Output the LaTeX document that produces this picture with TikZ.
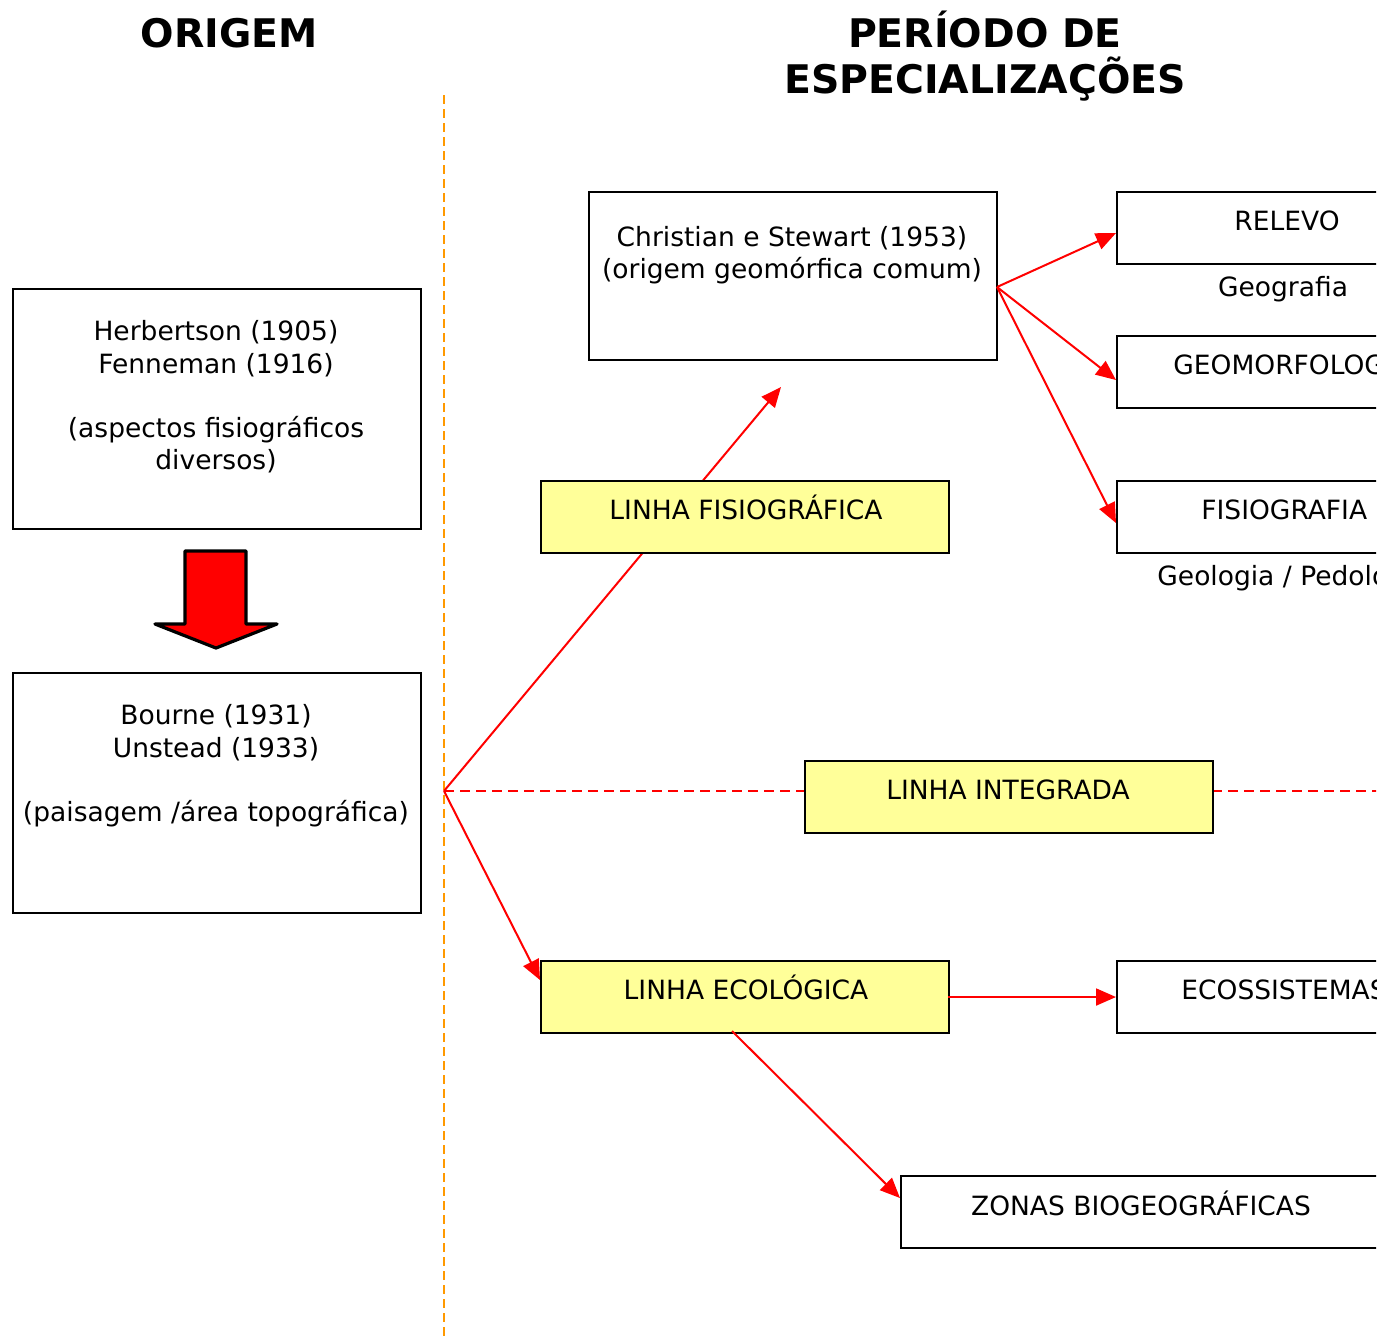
\documentclass[tikz,border=0pt]{standalone}
\usepackage{fontspec}
\setmainfont{DejaVu Sans}
\usetikzlibrary{arrows.meta}
\definecolor{lightyellow}{HTML}{FFFF99}
\definecolor{dashorange}{HTML}{FF9900}
\begin{document}
\begin{tikzpicture}[x=0.5pt,y=-0.5pt,
  box/.style={draw=black, line width=1pt, fill=white, rectangle, inner sep=0pt, anchor=north west, minimum width=204pt, minimum height=36pt},
  bigbox/.style={box, minimum height=120pt},
  linebox/.style={box, fill=lightyellow},
  txt/.style={inner sep=0pt, font=\fontsize{13.25pt}{16.2pt}\selectfont, align=center},
  ttl/.style={inner sep=0pt, font=\fontsize{19.7pt}{23pt}\selectfont\bfseries, align=center},
  redarr/.style={draw=red, line width=1pt, -{Triangle[length=10pt,width=8.5pt]}},
  reddash/.style={draw=red, line width=1pt, dash pattern=on 5pt off 3pt},
  bigarrow/.style={draw=black, fill=red, line width=1.6pt, line join=round}
]
\useasboundingbox (0,0) rectangle (1391,1341);

% titles
\node[ttl] (t1) at (229,33) {ORIGEM};
\node[ttl] (t2) at (985,56) {PERÍODO DE\\ESPECIALIZAÇÕES};

% divider
\draw[dashorange, line width=1pt, dash pattern=on 4.5pt off 2.5pt] (444,95) -- (444,1336);

% origin point
\coordinate (O) at (444,791);
\coordinate (fisiotip) at (781,387);

\begin{scope}
\clip (0,0) rectangle (1376,1341);
% lines behind boxes
\draw[redarr] (O) -- (fisiotip);
\draw[reddash] (O) -- (1400,791);

% left column
\node[bigbox] (herb) at (12,288) {};
\node[txt] (herbt) at (216,397) {Herbertson (1905)\\Fenneman (1916)\\[16pt](aspectos fisiográficos\\diversos)};
\node[bigbox] (bour) at (12,672) {};
\node[txt] (bourt) at (216,766) {Bourne (1931)\\Unstead (1933)\\[16pt](paisagem /área topográfica)};

\draw[bigarrow] (185,551) -- (246,551) -- (246,624) -- (277,624) -- (216,648) -- (155,624) -- (185,624) -- cycle;

% Christian
\node[box, minimum height=84pt] (chr) at (588,191) {};
\node[txt] (chrt) at (792,255) {Christian e Stewart (1953)\\(origem geomórfica comum)};

% line boxes
\node[linebox] (fisio) at (540,480) {};
\node[txt, anchor=base] (fisiot) at (746,519) {LINHA FISIOGRÁFICA};
\node[linebox] (integ) at (804,760) {};
\node[txt, anchor=base] (integt) at (1008,799) {LINHA INTEGRADA};
\node[linebox] (ecol) at (540,960) {};
\node[txt, anchor=base] (ecolt) at (746,999) {LINHA ECOLÓGICA};

% right boxes
\node[box, minimum width=260pt] (rel) at (1116,191) {};
\node[txt, anchor=base] (relt) at (1287,230) {RELEVO};
\node[txt, anchor=base] (geog) at (1283,296) {Geografia};
\node[box, minimum width=260pt] (geom) at (1116,335) {};
\node[txt, anchor=base west] (geomt) at (1173,374) {GEOMORFOLOGIA};
\node[box, minimum width=260pt] (fis) at (1116,480) {};
\node[txt, anchor=base west] (fist) at (1201,519) {FISIOGRAFIA};
\node[txt, anchor=base west] (geol) at (1157,585) {Geologia / Pedologia};
\node[box, minimum width=260pt] (eco) at (1116,960) {};
\node[txt, anchor=base west] (ecot) at (1181,999) {ECOSSISTEMAS};
\node[box, minimum width=260pt] (zon) at (900,1175) {};
\node[txt, anchor=base] (zont) at (1141,1215) {ZONAS BIOGEOGRÁFICAS};

% connectors
\coordinate (cs) at (997,287);
\draw[redarr] (cs) -- (1116,233);
\draw[redarr] (cs) -- (1116,380);
\draw[redarr] (cs) -- (1116,523);
\draw[redarr] (O) -- (540,980);
\draw[redarr] (948,997) -- (1116,997);
\draw[redarr] (732,1031) -- (900,1198);
\end{scope}
\end{tikzpicture}
\end{document}
